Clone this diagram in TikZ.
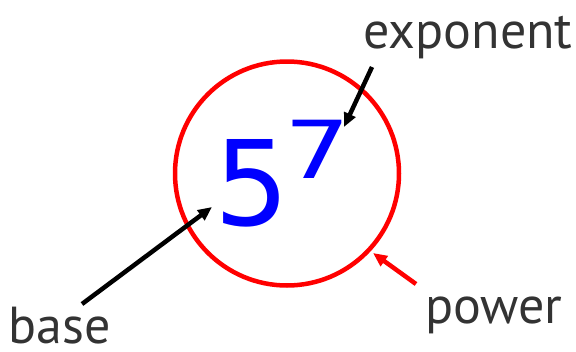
\documentclass[tikz,border=0pt]{standalone}
\usepackage{fontspec}
\setmainfont{PT Sans}
\newfontfamily\digitfont{DejaVu Sans}
\usetikzlibrary{positioning,arrows.meta}
\definecolor{labelgray}{HTML}{333333}

\begin{document}
\begin{tikzpicture}[
    x=1pt, y=-1pt,
    word/.style={
        text=labelgray,
        font=\fontsize{52}{52}\selectfont,
        inner sep=0pt,
        anchor=base
    },
    digit/.style={
        text=blue,
        inner sep=0pt,
        anchor=base
    },
    ring/.style={
        draw=red,
        line width=4.5pt,
        circle,
        minimum size=224pt,
        inner sep=0pt
    },
    arrow/.style={-{Triangle[length=14pt,width=12pt]}, line width=4.5pt}
]
\useasboundingbox (0,0) rectangle (576,351);

\node[ring] (power) at (287,173.5) {};
\node[digit, font=\digitfont\fontsize{118}{118}\selectfont] (five) at (252,225) {5};
\node[digit, font=\digitfont\fontsize{80}{80}\selectfont, xscale=1.3] (seven) at (318,178) {7};

\node[word] (exp) at (468,48) {exponent};
\node[word] (bas) at (60,343) {base};
\node[word] (pow) at (494,323) {power};

% pointer ends
\coordinate (exptip) at (344,127);
\coordinate (bastip) at (212,207);
\coordinate (powtip) at (373,253);
\coordinate (expstart) at (372,67);
\coordinate (basstart) at (82,304);
\coordinate (powstart) at (416,284);

\draw[arrow] (expstart) -- (exptip);
\draw[arrow] (basstart) -- (bastip);
\draw[arrow, red] (powstart) -- (powtip);

\end{tikzpicture}
\end{document}
